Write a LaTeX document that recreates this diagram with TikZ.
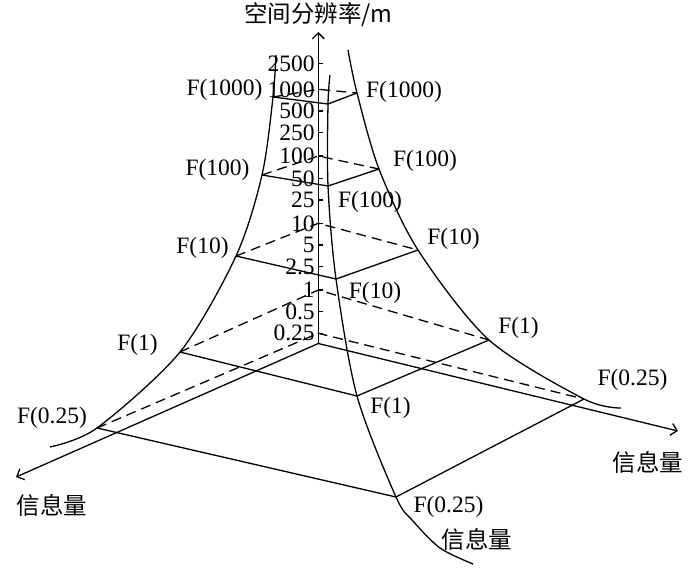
\documentclass[tikz,border=0pt]{standalone}
\usepackage{fontspec}
\setmainfont{Liberation Serif}
\newfontfamily\cjk{Noto Sans CJK SC}
\usetikzlibrary{positioning,arrows.meta}

\begin{document}
\begin{tikzpicture}[x=0.5pt,y=-0.5pt,line width=0.65pt,
        >={Straight Barb[length=3pt,width=6pt]},
        every node/.style={font=\fontsize{11.75}{14}\selectfont,inner sep=1.5pt},
        hidden/.style={dash pattern=on 5pt off 3pt}]
        \useasboundingbox (0,0) rectangle (700,568);
        % Assi
        \coordinate (O) at (318.3,343.5);
        \coordinate (ytip) at (318.3,32);
        \coordinate (xtip) at (16,477);
        \coordinate (ztip) at (678,431);
        \draw[->] (O) -- (ytip);
        \draw[->] (O) -- (xtip);
        \draw[->] (O) -- (ztip);
        \node[above=1pt of ytip] (ylab) {\cjk 空间分辨率/m};
        \node (xlab) at (52,505) {\cjk 信息量};
        \node (zlab) at (648,462) {\cjk 信息量};
        \node (flab) at (477,539) {\cjk 信息量};
        % Tacche
        \foreach \v/\h [count=\i] in {0.25/333.3,0.5/311.7,1/290,2.5/266.7,5/245,10/223.3,25/200,
                50/178.3,100/156,250/132.7,500/111,1000/89.3,2500/63.3}
            \draw (318.3,\h) -- (323,\h) node[pos=0,left] (tick\i) {\v};
        % Vertici dei livelli
        \coordinate (B1000) at (318.3,89.3);  \coordinate (L1000) at (273,97);
        \coordinate (F1000) at (328,104);     \coordinate (R1000) at (357,93);
        \coordinate (B100) at (318.3,156);    \coordinate (L100) at (262,175);
        \coordinate (F100) at (328,186);      \coordinate (R100) at (379,169);
        \coordinate (B10) at (318.3,223.3);   \coordinate (L10) at (236,256);
        \coordinate (F10) at (336,279);       \coordinate (R10) at (418,250);
        \coordinate (B1) at (318.3,290);      \coordinate (L1) at (180,352);
        \coordinate (F1) at (357,396);        \coordinate (R1) at (489,340);
        \coordinate (B025) at (318.3,333.3);  \coordinate (L025) at (97,428);
        \coordinate (F025) at (396,497);      \coordinate (R025) at (584,399);
        % Livelli
        \foreach \n in {1000,100,10,1,025} {
            \draw[hidden] (L\n) -- (B\n) -- (R\n);
            \draw (L\n) -- (F\n) -- (R\n);
        }
        % Curve
        \draw plot[smooth] coordinates {(276,55) (L1000) (L100) (L10) (L1) (L025) (50,447)};
        \draw plot[smooth] coordinates {(330,75) (F1000) (F100) (F10) (F1) (F025) (413,521) (440,548) (473,564)};
        \draw plot[smooth] coordinates {(348,50) (R1000) (R100) (R10) (R1) (R025) (621,408)};
        % Etichette F
        \node (fl1000) at (224.5,90) {F(1000)};
        \node (fr1000) at (404,92) {F(1000)};
        \node (fl100) at (217.5,170) {F(100)};
        \node (fr100) at (425,161) {F(100)};
        \node (ff100) at (370,202) {F(100)};
        \node (fl10) at (202.5,248) {F(10)};
        \node (fr10) at (453.5,239) {F(10)};
        \node (ff10) at (375,293) {F(10)};
        \node (fl1) at (137.5,345) {F(1)};
        \node (fr1) at (518.5,328) {F(1)};
        \node (ff1) at (390.5,408) {F(1)};
        \node (fl025) at (52,418) {F(0.25)};
        \node (fr025) at (632.5,380) {F(0.25)};
        \node (ff025) at (448.5,507) {F(0.25)};
    \end{tikzpicture}
\end{document}
